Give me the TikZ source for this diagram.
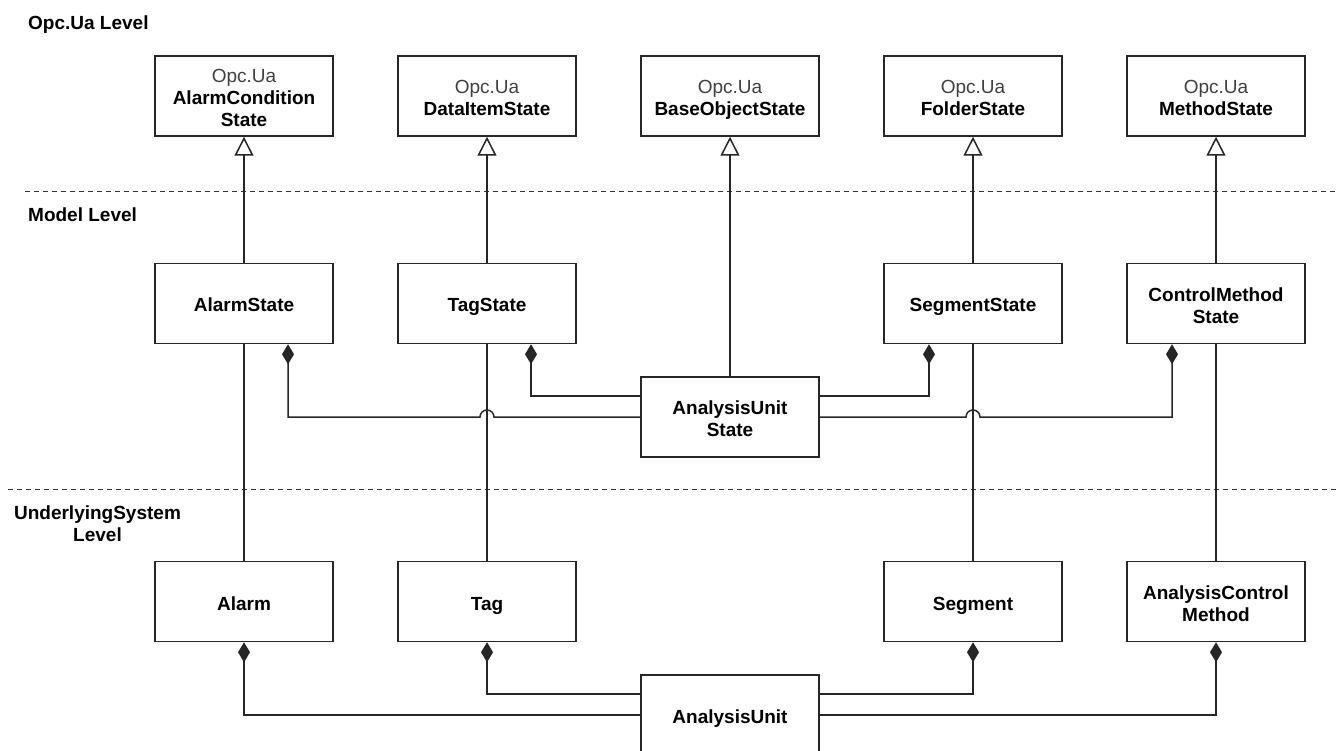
\documentclass[tikz,border=0pt]{standalone}
\usepackage{fontspec}
\setmainfont{Liberation Sans}
\usetikzlibrary{arrows.meta,calc}
\newcommand{\tallstrut}{\rule{0pt}{22.5pt}}
\newcommand{\pkgname}{{\mdseries\color{black!75}Opc.Ua}}
\begin{document}
\begin{tikzpicture}[x=1pt,y=-1pt,
  cls/.style={draw=black!85, line width=1.5pt, fill=white, minimum width=178pt,
    minimum height=80pt, inner sep=2pt, align=center,
    font=\fontsize{19}{22}\selectfont\bfseries,
    execute at begin node={\rule{0pt}{22pt}},
    execute at end node={\rule[-5pt]{0pt}{5pt}}},
  ml/.style={execute at begin node={}},
  lvl/.style={font=\fontsize{19}{22}\selectfont\bfseries, align=center, inner sep=0pt},
  link/.style={draw=black!85, line width=1.5pt},
  inherit/.style={link, -{Triangle[open, length=19pt, width=19pt]}},
  compose/.style={link, {Diamond[length=20pt, width=12pt]}-},
  levelline/.style={draw=black!80, line width=1.4pt, dash pattern=on 5pt off 4pt}
]
\path[use as bounding box, clip] (0,0) rectangle (1336,751);

% level separators and captions
\draw[levelline] (25,191.5) -- (1336,191.5);
\draw[levelline] (8,489.5) -- (1336,489.5);
\node[lvl, anchor=west] (lopc) at (28,25) {Opc.Ua Level};
\node[lvl, anchor=west] (lmod) at (28,215) {Model Level};
\node[lvl] (lund) at (97.5,524) {UnderlyingSystem\\Level};

% Opc.Ua base classes
\node[cls, ml] (ac) at (244,96) {\tallstrut\pkgname\\AlarmCondition\\State};
\node[cls, ml] (di) at (487,96) {\tallstrut\pkgname\\DataItemState};
\node[cls, ml] (bo) at (730,96) {\tallstrut\pkgname\\BaseObjectState};
\node[cls, ml] (fo) at (973,96) {\tallstrut\pkgname\\FolderState};
\node[cls, ml] (me) at (1216,96) {\tallstrut\pkgname\\MethodState};

% model classes
\node[cls] (as) at (244,303.5) {AlarmState};
\node[cls] (ts) at (487,303.5) {TagState};
\node[cls] (ss) at (973,303.5) {SegmentState};
\node[cls, ml] (cms) at (1216,303.5) {\tallstrut ControlMethod\\State};
\node[cls, ml] (aus) at (730,417) {\tallstrut AnalysisUnit\\State};

% underlying system classes
\node[cls] (al) at (244,601.5) {Alarm};
\node[cls] (tg) at (487,601.5) {Tag};
\node[cls] (sg) at (973,601.5) {Segment};
\node[cls, ml] (acm) at (1216,601.5) {\tallstrut AnalysisControl\\Method};
\node[cls] (au) at (730,715) {AnalysisUnit};

% generalisation
\draw[inherit] (as.north) -- (ac.south);
\draw[inherit] (ts.north) -- (di.south);
\draw[inherit] (aus.north) -- (bo.south);
\draw[inherit] (ss.north) -- (fo.south);
\draw[inherit] (cms.north) -- (me.south);

% model state wraps the underlying object
\draw[link] (al.north) -- (as.south);
\draw[link] (tg.north) -- (ts.south);
\draw[link] (sg.north) -- (ss.south);
\draw[link] (acm.north) -- (cms.south);

% composition in the model level
\coordinate (asd) at ($(as.south)+(44,0)$);
\coordinate (tsd) at ($(ts.south)+(44,0)$);
\coordinate (ssd) at ($(ss.south)+(-44,0)$);
\coordinate (cmd) at ($(cms.south)+(-44,0)$);
\draw[compose] (asd) -- (asd |- aus.west)
  -- ($(ts.south |- aus.west)+(-7,0)$) arc[start angle=180, end angle=0, radius=7pt]
  -- (aus.west);
\draw[compose] (tsd) |- ([yshift=21pt]aus.west);
\draw[compose] (ssd) |- ([yshift=21pt]aus.east);
\draw[compose] (cmd) -- (cmd |- aus.east)
  -- ($(ss.south |- aus.east)+(7,0)$) arc[start angle=0, end angle=180, radius=7pt]
  -- (aus.east);

% composition in the underlying system level
\draw[compose] (al.south) |- (au.west);
\draw[compose] (tg.south) |- ([yshift=21pt]au.west);
\draw[compose] (sg.south) |- ([yshift=21pt]au.east);
\draw[compose] (acm.south) |- (au.east);
\end{tikzpicture}
\end{document}
